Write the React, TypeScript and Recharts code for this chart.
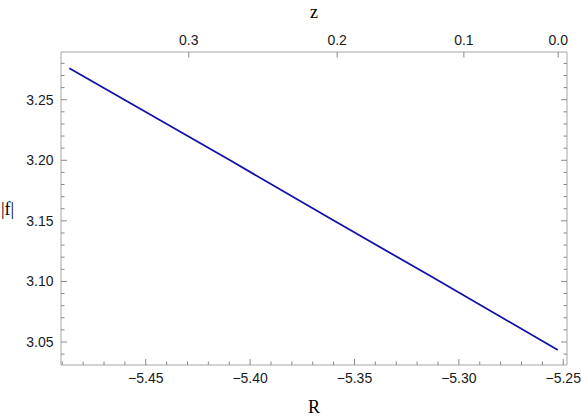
import { LineChart, Line, XAxis, YAxis } from "recharts";

// |f| against R
const rValues = [-5.4866, -5.4096, -5.3616, -5.3136, -5.2526];
const fValues = [3.276, 3.2, 3.1519, 3.1044, 3.0434];

// bottom axis (R)
const rMajor = [-5.45, -5.4, -5.35, -5.3, -5.25];
const rMajorLabels = ["−5.45", "−5.40", "−5.35", "−5.30", "−5.25"];
const rMinor = [
  -5.49, -5.48, -5.47, -5.46, -5.45, -5.44, -5.43, -5.42, -5.41, -5.4, -5.39, -5.38, -5.37,
  -5.36, -5.35, -5.34, -5.33, -5.32, -5.31, -5.3, -5.29, -5.28, -5.27, -5.26, -5.25,
];

// left / right axis (|f|)
const fMajor = [3.05, 3.1, 3.15, 3.2, 3.25];
const fMajorLabels = ["3.05", "3.10", "3.15", "3.20", "3.25"];
const fMinor = [
  3.04, 3.05, 3.06, 3.07, 3.08, 3.09, 3.1, 3.11, 3.12, 3.13, 3.14, 3.15, 3.16, 3.17, 3.18,
  3.19, 3.2, 3.21, 3.22, 3.23, 3.24, 3.25, 3.26, 3.27, 3.28,
];

// top axis (z), placed at the matching R positions
const zTickR = [-5.4294, -5.3583, -5.2976, -5.2524];
const zLabels = ["0.3", "0.2", "0.1", "0.0"];

const rDomain = [-5.4906, -5.2482];
const fDomain = [3.031, 3.2894];

const chartData = rValues.map((r, i) => ({ R: r, f: fValues[i] }));

const TICK_COLOR = "#8a8a8a";
const FRAME_COLOR = "#a6a6a6";
const SANS = "'Liberation Sans', Arial, sans-serif";
const SERIF = "'Liberation Serif', 'Times New Roman', serif";

function findLabel(value: number, majors: number[], labels: string[]) {
  const i = majors.findIndex(m => Math.abs(m - value) < 1e-6);
  return i >= 0 ? labels[i] : null;
}

function BottomTick(props: any) {
  const { x, y, payload } = props;
  const label = findLabel(payload.value, rMajor, rMajorLabels);
  return (
    <g>
      <line x1={x} y1={y} x2={x} y2={y - (label ? 6 : 3.5)} stroke={TICK_COLOR} />
      {label && (
        <text x={x} y={y + 18.3} textAnchor="middle" fontFamily={SANS} fontSize={14} fill="#1a1a1a">
          {label}
        </text>
      )}
    </g>
  );
}

function TopTick(props: any) {
  const { x, y, payload } = props;
  const i = zTickR.findIndex(m => Math.abs(m - payload.value) < 1e-6);
  return (
    <g>
      <line x1={x} y1={y} x2={x} y2={y + 5.5} stroke={TICK_COLOR} />
      <text x={x} y={y - 7.5} textAnchor="middle" fontFamily={SANS} fontSize={14} fill="#1a1a1a">
        {zLabels[i]}
      </text>
    </g>
  );
}

function LeftTick(props: any) {
  const { x, y, payload } = props;
  const label = findLabel(payload.value, fMajor, fMajorLabels);
  return (
    <g>
      <line x1={x} y1={y} x2={x + (label ? 6 : 3.5)} y2={y} stroke={TICK_COLOR} />
      {label && (
        <text x={x - 7.5} y={y + 5} textAnchor="end" fontFamily={SANS} fontSize={14} fill="#1a1a1a">
          {label}
        </text>
      )}
    </g>
  );
}

function RightTick(props: any) {
  const { x, y, payload } = props;
  const major = findLabel(payload.value, fMajor, fMajorLabels);
  return <line x1={x} y1={y} x2={x - (major ? 6 : 3.5)} y2={y} stroke={TICK_COLOR} />;
}

// axis titles, drawn from the axis viewBox
const titleStyle = { fontFamily: SERIF, fontSize: 18, fill: "#000" };

const bottomTitle = ({ viewBox }: any) => (
  <text x={viewBox.x + viewBox.width / 2} y={viewBox.y + viewBox.height - 5} textAnchor="middle" {...titleStyle}>
    R
  </text>
);

const topTitle = ({ viewBox }: any) => (
  <text x={viewBox.x + viewBox.width / 2} y={viewBox.y + 18} textAnchor="middle" {...titleStyle}>
    z
  </text>
);

const leftTitle = ({ viewBox }: any) => (
  <text x={viewBox.x + 1} y={viewBox.y + viewBox.height / 2 + 6} textAnchor="start" {...titleStyle}>
    |f|
  </text>
);

export default function App() {
  return (
    <div style={{ position: "absolute", left: 0, top: 0, background: "#fff" }}>
      <LineChart width={581} height={418} data={chartData} margin={{ top: 0, right: 0, bottom: 0, left: 0 }}>
        <XAxis
          xAxisId="bottom"
          dataKey="R"
          type="number"
          domain={rDomain}
          allowDataOverflow
          ticks={rMinor}
          interval={0}
          height={53}
          tickSize={0}
          tickMargin={0}
          tickLine={false}
          axisLine={{ stroke: FRAME_COLOR }}
          tick={<BottomTick />}
          label={{ value: "R", position: "insideBottom", content: bottomTitle }}
        />
        <XAxis
          xAxisId="top"
          orientation="top"
          dataKey="R"
          type="number"
          domain={rDomain}
          allowDataOverflow
          ticks={zTickR}
          interval={0}
          height={52}
          tickSize={0}
          tickMargin={0}
          tickLine={false}
          axisLine={{ stroke: FRAME_COLOR }}
          tick={<TopTick />}
          label={{ value: "z", position: "insideTop", content: topTitle }}
        />
        <YAxis
          yAxisId="left"
          dataKey="f"
          type="number"
          domain={fDomain}
          allowDataOverflow
          ticks={fMinor}
          interval={0}
          width={61}
          tickSize={0}
          tickMargin={0}
          tickLine={false}
          axisLine={{ stroke: FRAME_COLOR }}
          tick={<LeftTick />}
          label={{ value: "|f|", position: "insideLeft", content: leftTitle }}
        />
        <YAxis
          yAxisId="right"
          orientation="right"
          dataKey="f"
          type="number"
          domain={fDomain}
          allowDataOverflow
          ticks={fMinor}
          interval={0}
          width={14}
          tickSize={0}
          tickMargin={0}
          tickLine={false}
          axisLine={{ stroke: FRAME_COLOR }}
          tick={<RightTick />}
        />
        <Line
          xAxisId="bottom"
          yAxisId="left"
          type="linear"
          dataKey="f"
          stroke="#1212aa"
          strokeWidth={1.8}
          dot={false}
          isAnimationActive={false}
        />
      </LineChart>
    </div>
  );
}
